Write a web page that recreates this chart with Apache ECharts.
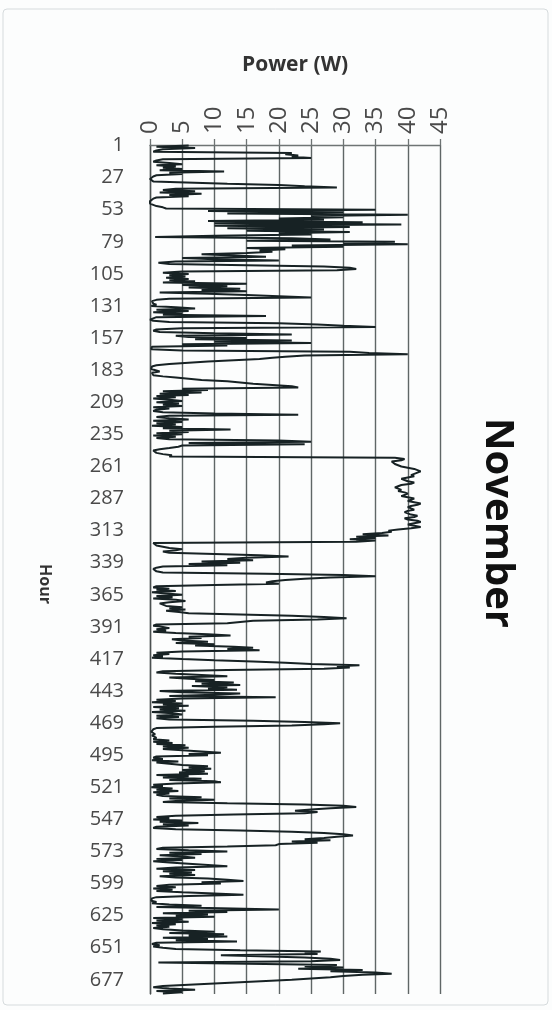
<!DOCTYPE html>
<html>
<head>
<meta charset="utf-8">
<script src="https://cdn.jsdelivr.net/npm/echarts@6/dist/echarts.min.js"></script>
<style>
html,body{margin:0;padding:0;background:#fcfdfd;}
#chart{width:552px;height:1010px;}
</style>
</head>
<body>
<div id="chart"></div>
<script>
// Power (W) per hour, November (hours 1..688)
const power = [
6, 1, 7, 2, 1, 0.5, 22, 21, 23, 22,
25, 2, 1, 0.5, 3, 5, 1, 4, 2, 5,
1.5, 11.5, 3, 5, 1, 0.5, 0.2, 0, 0.3, 0.5,
0.5, 12, 20, 24, 29, 4, 2, 7, 1.5, 8,
3, 6, 1, 0.5, 0.2, 0, 0, 0, 0.3, 1,
2, 2.5, 35, 9, 30, 12, 40, 25, 30, 20,
27, 9, 33, 10, 39, 10, 31, 12, 27, 15,
31, 20, 25, 10, 0.8, 22, 28, 15, 38, 30,
40, 22, 30, 15, 21, 17, 19, 15, 8, 13,
18, 5, 10, 20, 4, 1.3, 3, 15, 27, 31,
32, 29, 5, 2, 6, 3, 5.5, 2.5, 6, 3,
7, 2, 15, 5, 12, 6, 14, 8, 15, 1.5,
9, 15, 20, 25, 3, 1, 0.3, 0, 0.5, 1,
0.2, 4, 7, 1, 6, 0.5, 5, 2, 18, 1,
0.5, 0, 0.5, 3, 20, 26, 30, 35, 5, 1,
0.5, 1.5, 10, 22, 4, 6, 15, 7, 22, 10,
25, 5, 12, 0.3, 0.5, 0.2, 5, 31, 34, 40,
24, 21, 19, 17, 13, 9, 6, 3, 1, 0.3,
0, 0.2, 0.5, 1.5, 0.3, 0, 0.5, 2, 4, 6,
8, 12, 14, 16, 19, 22, 23, 5, 9, 2,
8, 1.5, 6, 1, 4, 0.5, 3, 5, 1, 4.5,
2, 5, 0.5, 3, 1, 0.5, 2, 10, 23, 3,
1, 3, 6, 0.5, 5, 1, 4, 0.3, 5, 2,
12.5, 3, 6, 1, 5, 0.5, 4, 1, 3, 20,
25, 6, 24, 5, 4.4, 3, 1.5, 0.5, 0.3, 1,
2, 3.4, 3, 38, 39.5, 39, 37.5, 37.5, 38, 38.5,
39, 40, 41, 41.5, 42, 42, 41, 40.5, 41, 40,
39, 39.5, 40, 41, 40.5, 39, 38.5, 38, 38.5, 39,
38.5, 39.5, 40, 39.5, 39, 40, 41, 40.5, 40, 41,
42, 41.5, 40.5, 40, 40.5, 41, 40, 39.5, 40, 40.5,
41.5, 41, 39.5, 40, 41.5, 42, 41, 40, 41, 42,
40.5, 38.5, 37, 37.5, 36, 33, 37, 32, 35, 31,
35, 32, 0.5, 0.2, 1, 2, 3, 5, 4, 2,
3, 10, 17, 21.5, 15, 12, 16, 8, 14, 6,
12, 2, 1, 0.5, 0.5, 1, 2, 18, 30, 35,
28, 24, 21, 19, 18, 20, 10, 1, 0.5, 3,
1, 4, 0.3, 2.5, 5, 1, 3.5, 0.5, 4, 5.5,
3, 1.5, 2, 2.5, 5, 3, 5.5, 2.5, 4.5, 6,
6, 22, 27, 30.5, 26, 16, 14, 12, 1, 0.5,
2, 3, 1, 2.5, 0.5, 4, 9, 12.5, 6, 8,
3.4, 5, 9, 4, 10, 7, 13, 16, 12, 17,
5, 1, 3, 0.5, 2, 0.3, 5, 10, 16, 21,
25, 32.5, 29, 31, 27, 12, 2, 1, 4, 8,
12, 3, 6, 10, 7, 13, 8, 14, 6.5, 12,
9, 13.5, 1.5, 5, 14, 10, 3, 19.5, 5, 1,
4, 0.3, 5, 2, 6, 0.5, 4.5, 1.5, 5.5, 0.3,
3.5, 5, 1, 4.5, 1, 3, 16, 24, 29.5, 27,
22, 10, 1, 0.5, 0.3, 0.2, 0.5, 0.8, 0.3, 0.5,
1, 0.5, 3, 0.5, 3.5, 1, 5.5, 2, 6, 2,
5, 8, 11, 6, 9, 1, 0.5, 2, 0.3, 4.4,
1, 3, 5, 9, 6, 9.5, 5, 8.5, 4.5, 9,
1, 6, 2, 8, 3, 10, 11, 4, 0.5, 2,
0.2, 3.5, 1, 4.4, 0.5, 3, 1, 2, 8, 3,
10, 4, 2, 12, 24, 30, 32, 28, 25, 22.5,
26, 24, 13, 4, 1, 3, 0.5, 5, 1.5, 7.5,
2, 6, 1, 0.5, 4, 14, 22, 27, 30, 31.5,
29, 27, 24, 28, 22, 26, 20, 19.5, 12, 2,
1, 6, 12, 3, 8, 1.5, 5, 7, 1, 5,
0.5, 3, 6, 9, 12, 4, 1, 7, 2, 6.5,
3, 7, 1.5, 4, 9, 12, 14.5, 8, 11, 3,
1, 4, 0.5, 3.5, 1, 5, 10, 14.5, 6, 1,
0.3, 0.5, 0.2, 1, 0.3, 3, 8, 1, 11, 20,
6, 12, 2, 9, 4, 10, 0.5, 5, 1, 6,
0.3, 4, 1, 3, 0.5, 2, 5, 10, 3, 11.5,
6, 12, 2, 9, 4, 13.5, 1, 0.3, 1.5, 0.5,
2, 4, 14, 26.5, 24, 26, 11, 17, 24, 28,
29.5, 25, 1.3, 15, 29, 24, 30, 23, 33, 28,
35, 37.5, 33, 30, 28, 25, 22, 18, 14, 10,
6, 2, 0.5, 3, 7, 1, 5, 2
];
// Hour categories 1..N
const hours = power.map((_, i) => String(i + 1));
const powerMin = 0, powerMax = 45, powerStep = 5;
const titleText = 'November';
const xName = 'Power (W)';
const yName = 'Hour';

const chart = echarts.init(document.getElementById('chart'), null, {renderer: 'canvas'});
const font = 'Open Sans';
chart.setOption({
  backgroundColor: '#fcfdfd',
  animation: false,
  grid: {left: 150, right: 112, top: 145, height: 849, containLabel: false},
  xAxis: {
    type: 'value', position: 'top',
    min: powerMin, max: powerMax, interval: powerStep,
    name: xName, nameLocation: 'middle', nameGap: 69,
    nameTextStyle: {fontFamily: font, fontSize: 21, fontWeight: 'bold', color: '#333'},
    axisLine: {show: true, lineStyle: {color: '#6e7474', width: 1.3}},
    axisTick: {show: true, length: 6, lineStyle: {color: '#6e7474', width: 1.3}},
    axisLabel: {rotate: -90, margin: 11, fontFamily: font, fontSize: 24, color: '#4a4a4a'},
    splitLine: {show: true, lineStyle: {color: '#5f6666', width: 1.4}}
  },
  yAxis: {
    type: 'category', data: hours, inverse: true, boundaryGap: true,
    axisLine: {show: true, lineStyle: {color: '#4a5050', width: 1.4}},
    axisTick: {show: false},
    axisLabel: {interval: 25, margin: 26, fontFamily: font, fontSize: 20, color: '#4a4a4a'},
    splitLine: {show: false}
  },
  series: [{
    type: 'line', data: power, symbol: 'none',
    lineStyle: {color: '#172224', width: 2},
    silent: true
  }],
  graphic: [
    {type: 'rect', shape: {x: 3, y: 9, width: 545, height: 996, r: 4},
     style: {fill: 'none', stroke: '#d6dbdd', lineWidth: 1}, silent: true},
    {type: 'text', x: 45, y: 584, rotation: -Math.PI / 2,
     style: {text: yName, font: 'bold 16px "Open Sans"', fill: '#333',
             textAlign: 'center', textVerticalAlign: 'middle'}},
    {type: 'text', x: 497, y: 523, rotation: -Math.PI / 2,
     style: {text: titleText, font: 'bold 40px "Open Sans"', fill: '#111',
             textAlign: 'center', textVerticalAlign: 'middle'}}
  ]
});
</script>
</body>
</html>
